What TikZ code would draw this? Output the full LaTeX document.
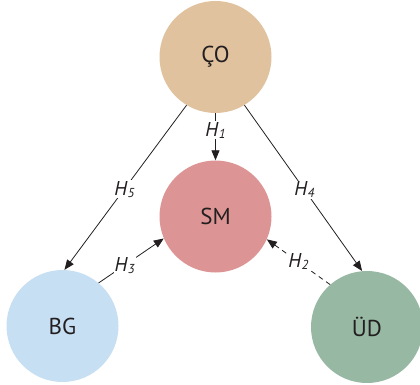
\documentclass[tikz,border=0pt]{standalone}
\usepackage{fontspec}
\setmainfont{PT Sans}
\usetikzlibrary{arrows.meta}
\definecolor{cco}{HTML}{E0C29E}
\definecolor{csm}{HTML}{DC9594}
\definecolor{cbg}{HTML}{C7DFF3}
\definecolor{cud}{HTML}{97B8A3}
\definecolor{ink}{HTML}{231F20}
\newcommand{\hlab}[1]{\itshape H\kern0.5pt\raisebox{-2pt}{\fontsize{13}{13}\selectfont #1}}
\tikzset{
  circ/.style={circle, minimum size=112pt, inner sep=0pt, text=ink, font=\fontsize{23}{23}\selectfont},
  conn/.style={ink, line width=0.8pt, -{Triangle[length=10pt,width=8pt]}},
  lab/.style={fill=white, inner sep=1pt, text=ink, font=\fontsize{20}{20}\selectfont}
}
\begin{document}
\begin{tikzpicture}[x=1pt,y=-1pt]
\useasboundingbox (0,0) rectangle (420,385);
\node[circ, fill=cco] (co) at (215.5,57) {ÇO};
\node[circ, fill=csm] (sm) at (215.5,216.5) {SM};
\node[circ, fill=cbg] (bg) at (62.5,326) {BG};
\node[circ, fill=cud] (ud) at (367,327) {ÜD};
\draw[conn] (co.south) -- node[lab, pos=0.36] (h1) {\hlab{1}} (sm.north);
\draw[conn] (co.239) -- node[lab, pos=0.51] (h5) {\hlab{5}} (bg.88);
\draw[conn] (co.301) -- node[lab, pos=0.51] (h4) {\hlab{4}} (ud.95);
\draw[conn] (bg.50) -- node[lab, pos=0.4] (h3) {\hlab{3}} (sm.203);
\draw[conn, dash pattern=on 5pt off 4pt] (ud.131) -- node[lab, pos=0.5] (h2) {\hlab{2}} (sm.336);
\end{tikzpicture}
\end{document}
